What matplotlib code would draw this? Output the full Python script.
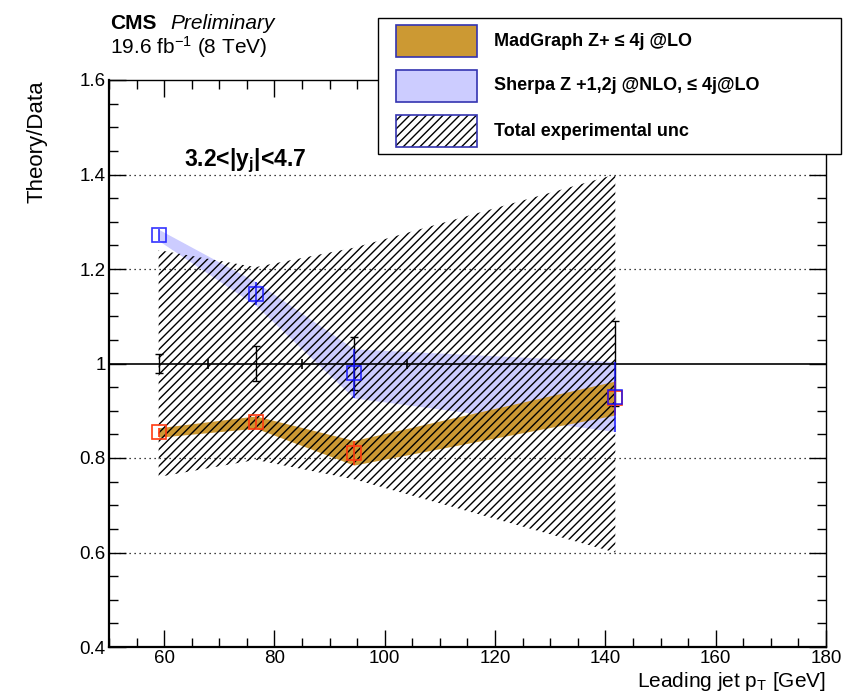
"""
plot.py: Theory/Data ratio vs leading jet pT (3.2<|y_j|<4.7), CMS style
"""

import numpy as np
import matplotlib
matplotlib.use("Agg")
import matplotlib.pyplot as plt
from matplotlib.patches import Rectangle
from matplotlib.ticker import MultipleLocator

# ---- data ----
pt_centers = [59.0, 76.6, 94.4, 141.8]
bin_edges = [68.0, 85.0, 104.0]
data_ratio = [1.0, 1.0, 1.0, 1.0]
data_err = [0.020, 0.037, 0.057, 0.091]
exp_unc = [0.240, 0.204, 0.245, 0.400]

mg_ratio = [0.854, 0.876, 0.811, 0.927]
mg_err = [0.010, 0.013, 0.026, 0.036]

sherpa_ratio = [1.272, 1.148, 0.979, 0.930]
sherpa_err = [0.012, 0.025, 0.052, 0.074]

x_ticks = [60, 80, 100, 120, 140, 160, 180]
y_ticks = [0.4, 0.6, 0.8, 1.0, 1.2, 1.4, 1.6]
y_tick_labels = ["0.4", "0.6", "0.8", "1", "1.2", "1.4", "1.6"]
grid_levels = [0.6, 0.8, 1.2, 1.4]

legend_labels = [
    "MadGraph Z+ \u2264 4j @LO",
    "Sherpa Z +1,2j @NLO, \u2264 4j@LO",
    "Total experimental unc",
]

# ---- style ----
W, H = 867, 695
MG_COLOR = "#cc9933"
SHERPA_COLOR = "#ccccff"
RED = "#ff3a10"
BLUE = "#1010ff"
LEG_EDGE = "#3434b0"
HATCH = "////"
FONT = ["Liberation Sans", "DejaVu Sans"]

plt.rcParams["font.family"] = FONT
plt.rcParams["mathtext.fontset"] = "custom"
plt.rcParams["mathtext.rm"] = "Liberation Sans"
plt.rcParams["mathtext.it"] = "Liberation Sans:italic"
plt.rcParams["mathtext.bf"] = "Liberation Sans:bold"
plt.rcParams["hatch.linewidth"] = 1.0


def fx(px):
    return px / W


def fy(py):
    return 1.0 - py / H


def main():
    fig = plt.figure(figsize=(W / 100, H / 100), dpi=100)
    ax = fig.add_axes([fx(109), fy(647), fx(826) - fx(109), fy(80) - fy(647)])

    x = np.array(pt_centers)
    mg = np.array(mg_ratio)
    mge = np.array(mg_err)
    sh = np.array(sherpa_ratio)
    she = np.array(sherpa_err)
    dat = np.array(data_ratio)
    unc = np.array(exp_unc)

    # bands: sherpa below madgraph, hatched exp unc on top
    ax.fill_between(x, sh - she, sh + she, color=SHERPA_COLOR, lw=0, zorder=1)
    ax.fill_between(x, mg - mge, mg + mge, color=MG_COLOR, lw=0, zorder=2)
    ax.fill_between(x, dat - unc, dat + unc, facecolor="none",
                    edgecolor="black", hatch=HATCH, lw=0, zorder=3)

    # dotted grid and line at 1
    for lev in grid_levels:
        ax.axhline(lev, color="black", ls=(0, (1, 3)), lw=0.9, zorder=0)
    ax.axhline(1.0, color="black", lw=1.2, zorder=4)
    ax.plot(bin_edges, [1.0] * len(bin_edges), ls="none", marker="|",
            ms=7, mew=1.2, color="black", zorder=4)

    # data error bars
    ax.errorbar(x, dat, yerr=data_err, fmt="none", ecolor="black",
                elinewidth=1.0, capsize=3, capthick=1.0, zorder=5)

    # model points
    ax.errorbar(x, mg, yerr=mge, fmt="s", ms=10, mfc="none", mec=RED,
                mew=1.2, ecolor=RED, elinewidth=1.2, capsize=0, zorder=6)
    ax.errorbar(x, sh, yerr=she, fmt="s", ms=10, mfc="none", mec=BLUE,
                mew=1.2, ecolor=BLUE, elinewidth=1.2, capsize=0,
                alpha=0.85, zorder=7)

    # axes
    ax.set_xlim(50, 180)
    ax.set_ylim(0.4, 1.6)
    ax.set_xticks(x_ticks)
    ax.set_xticklabels([str(t) for t in x_ticks])
    ax.set_yticks(y_ticks)
    ax.set_yticklabels(y_tick_labels)
    ax.xaxis.set_minor_locator(MultipleLocator(5))
    ax.yaxis.set_minor_locator(MultipleLocator(0.05))
    ax.tick_params(which="both", direction="in", top=True, right=True,
                   labelsize=13.5, width=1.0)
    ax.tick_params(axis="x", pad=2.5)
    ax.tick_params(axis="y", pad=2.5)
    ax.tick_params(which="major", length=12.5)
    ax.tick_params(which="minor", length=6.3)
    for side in ("left", "bottom"):
        ax.spines[side].set_linewidth(1.6)
    for side in ("top", "right"):
        ax.spines[side].set_linewidth(1.0)

    # axis titles
    fig.text(fx(826), fy(687), r"Leading jet p$_\mathregular{T}$ [GeV]",
             ha="right", va="baseline", fontsize=15)
    fig.text(fx(37), fy(80), "Theory/Data", rotation=90,
             ha="center", va="top", fontsize=16)

    # CMS labels
    fig.text(fx(110), fy(29), "CMS", fontsize=15, fontweight="bold",
             va="baseline")
    fig.text(fx(170), fy(29), "Preliminary", fontsize=15, style="italic",
             va="baseline")
    fig.text(fx(110), fy(54), r"19.6 fb$^{-1}$ (8 TeV)", fontsize=15,
             va="baseline")
    fig.text(fx(184), fy(166), r"3.2<|y$_\mathbf{j}$|<4.7", fontsize=16.5,
             fontweight="bold", va="baseline")

    # legend box drawn by hand
    fig.patches.append(Rectangle((fx(378), fy(154)), fx(841) - fx(378),
                                 fy(18) - fy(154), transform=fig.transFigure,
                                 facecolor="white", edgecolor="black",
                                 lw=1.0, zorder=10))
    entry_y = [41, 86, 131]
    fills = [MG_COLOR, SHERPA_COLOR, "white"]
    hatches = [None, None, HATCH]
    for yc, lab, fc, hatch in zip(entry_y, legend_labels, fills, hatches):
        box = ((fx(396), fy(yc + 16)), fx(477) - fx(396),
               fy(yc - 16) - fy(yc + 16))
        fig.patches.append(Rectangle(*box, transform=fig.transFigure,
                                     facecolor=fc, edgecolor="black",
                                     hatch=hatch, lw=0, zorder=11))
        fig.patches.append(Rectangle(*box, transform=fig.transFigure,
                                     facecolor="none", edgecolor=LEG_EDGE,
                                     lw=1.2, zorder=11.5))
        fig.text(fx(494), fy(yc), lab, fontsize=13, fontweight="bold",
                 va="center", ha="left", zorder=12)

    fig.savefig("out.png", dpi=100)
    plt.close(fig)


if __name__ == "__main__":
    main()
